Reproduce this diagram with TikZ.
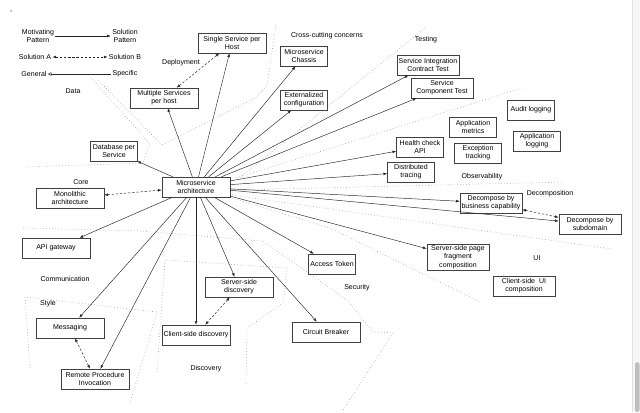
\documentclass[tikz,border=0pt]{standalone}
\usepackage{fontspec}
\setmainfont{Liberation Sans}
\usetikzlibrary{arrows.meta,shadows}

\begin{document}
\begin{tikzpicture}[x=0.03cm,y=-0.03cm,
    font=\fontsize{6}{7}\selectfont,
    box/.style={draw=black!75,fill=white,align=center,inner sep=1pt,
        minimum height=0.6cm,
        drop shadow={shadow xshift=0.7pt,shadow yshift=-0.7pt,opacity=0.45}},
    widebox/.style={box,minimum width=2.04cm},
    midbox/.style={box,minimum width=1.86cm},
    smallbox/.style={box,minimum width=1.41cm},
    region/.style={black!40,dotted,line width=0.5pt},
    link/.style={-{Latex[length=3.2pt,width=2.4pt]},black!85,line width=0.4pt},
    alt/.style={{Latex[length=3.2pt,width=2.4pt]}-{Latex[length=3.2pt,width=2.4pt]},
        black!85,dash pattern=on 2pt off 1.5pt,line width=0.4pt},
    tag/.style={inner sep=1pt,align=center}]

    \useasboundingbox (0,0) rectangle (640,412);

    % Scroll bar
    \fill[black!4] (632,0) rectangle (640,412);
    \draw[black!12] (632,0) -- (632,412);
    \fill[black!25,rounded corners=2pt] (635,362) rectangle (639.5,412);
    \fill (11,11) circle[radius=0.6pt];

    % Legend
    \node[tag] (motiv) at (38,36) {Motivating\\Pattern};
    \node[tag] (solpat) at (125,36) {Solution\\Pattern};
    \node[tag] (solA) at (35,57) {Solution A};
    \node[tag] (solB) at (125,57) {Solution B};
    \node[tag] (general) at (34,74) {General};
    \node[tag] (specific) at (125,74) {Specific};
    \draw[link] (motiv) -- (solpat);
    \draw[alt] (solA) -- (solB);
    \draw[{Triangle[open,length=3pt,width=3pt]}-,black!85,line width=0.4pt] (general) -- (specific);

    % Region borders
    \draw[region] (276,25) -- (267,85) -- (257,97) -- (162,145);
    \draw[region] (98,80) -- (162,145);
    \draw[region] (90,77) -- (138,130) -- (150,145) -- (143,163) -- (25,167);
    \draw[region] (425,28) -- (238,179);
    \draw[region] (522,88) -- (236,178);
    \draw[region] (232,190) -- (563,182);
    \draw[region] (232,195) -- (612,249);
    \draw[region] (232,198) -- (330,228) -- (480,302);
    \draw[region] (23,228) -- (140,231) -- (262,241) -- (280,253) -- (347,300)
        -- (373,332) -- (393,333) -- (343,410);
    \draw[region] (157,372) -- (165,260) -- (287,268) -- (283,303) -- (247,328) -- (246,385);
    \draw[region] (30,368) -- (25,297) -- (157,312) -- (130,403);

    % Region names
    \node[tag] (data) at (73,91) {Data};
    \node[tag] (deploy) at (181,63) {Deployment};
    \node[tag] (cross) at (327,36) {Cross-cutting concerns};
    \node[tag] (testing) at (426,40) {Testing};
    \node[tag] (observ) at (482,177) {Observability};
    \node[tag] (decomp) at (550,194) {Decomposition};
    \node[tag] (ui) at (537,258) {UI};
    \node[tag] (security) at (357,288) {Security};
    \node[tag] (discovery) at (206,369) {Discovery};
    \node[tag] (comm) at (65,279) {Communication};
    \node[tag] (style) at (48,304) {Style};
    \node[tag] (core) at (81,182) {Core};

    % Patterns
    \node[widebox] (micro) at (196,187) {Microservice\\architecture};
    \node[widebox] (mono) at (70,198) {Monolithic\\architecture};
    \node[smallbox] (dbps) at (114,151) {Database per\\Service};
    \node[widebox] (multi) at (164,98) {Multiple Services\\per host};
    \node[widebox] (single) at (232,43) {Single Service per\\Host};
    \node[smallbox] (chassis) at (304,56) {Microservice\\Chassis};
    \node[smallbox] (extcfg) at (304,100) {Externalized\\configuration};
    \node[midbox] (sit) at (428,65) {Service Integration\\Contract Test};
    \node[midbox] (sct) at (442,88) {Service\\Component Test};
    \node[smallbox] (audit) at (531,110) {Audit logging};
    \node[smallbox] (appmet) at (473,127) {Application\\metrics};
    \node[smallbox] (applog) at (537,141) {Application\\logging};
    \node[smallbox] (health) at (420,147) {Health check\\API};
    \node[smallbox] (exc) at (478,153) {Exception\\tracking};
    \node[smallbox] (dtrace) at (411,172) {Distributed\\tracing};
    \node[midbox] (dbc) at (491,203) {Decompose by\\business capability};
    \node[midbox] (dsub) at (590,224) {Decompose by\\subdomain};
    \node[midbox,minimum height=0.78cm] (sspage) at (458,257) {Server-side page\\fragment\\composition};
    \node[midbox] (csui) at (524,286) {Client-side~~UI\\composition};
    \node[smallbox] (token) at (332,264) {Access Token};
    \node[widebox] (breaker) at (326,332) {Circuit Breaker};
    \node[widebox] (ssdisc) at (239,287) {Server-side\\discovery};
    \node[widebox] (csdisc) at (196,335) {Client-side discovery};
    \node[widebox] (apigw) at (56,248) {API gateway};
    \node[widebox] (msg) at (70,328) {Messaging};
    \node[widebox] (rpi) at (95,379) {Remote Procedure\\Invocation};

    % Links from the root pattern
    \foreach \target in {dbps,multi,single,chassis,extcfg,sit,sct,health,dtrace,
        dbc,dsub,sspage,token,breaker,ssdisc,csdisc,rpi,msg,apigw} {
        \draw[link] (micro) -- (\target);
    }

    % Alternatives
    \draw[alt] (mono) -- (micro);
    \draw[alt] (multi) -- (single);
    \draw[alt] (dbc) -- (dsub);
    \draw[alt] (ssdisc) -- (csdisc);
    \draw[alt] (msg) -- (rpi);
\end{tikzpicture}
\end{document}
